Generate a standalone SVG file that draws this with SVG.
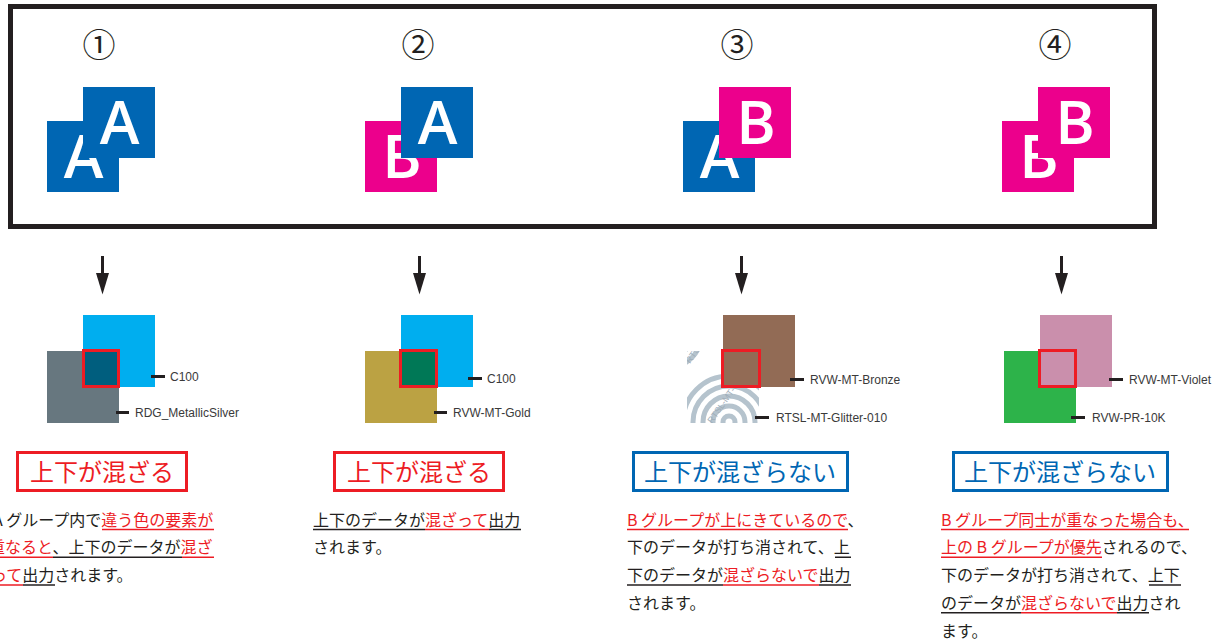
<svg xmlns="http://www.w3.org/2000/svg" width="1225" height="644" viewBox="0 0 1225 644">
<style>
.num{font-family:"Noto Sans CJK JP","Noto Sans",sans-serif;font-size:33px;fill:#231f20;text-anchor:middle}
.big{font-family:"Open Sans","Liberation Sans",sans-serif;font-size:60px;font-weight:600;fill:#fff;text-anchor:middle}
.blue{fill:#0066b3}
.mag{fill:#ec008c}
.lbl{font-family:"Liberation Sans",Arial,sans-serif;font-size:12px;fill:#3a3a3a}
.tick{stroke:#231f20;stroke-width:3}
.hl{fill:none;stroke:#ed1c24;stroke-width:3}
.cap{font-family:"Noto Sans CJK JP",sans-serif;font-size:24px}
.body{font-family:"Noto Sans CJK JP",sans-serif;font-size:16px;fill:#231f20}
.r{fill:#ed1c24}
.ur{stroke:#ed1c24;stroke-width:1.5}
.uk{stroke:#231f20;stroke-width:1.5}
.conn{stroke:#231f20;stroke-width:3;fill:none}
</style>
<defs>
<marker id="ah" markerUnits="userSpaceOnUse" markerWidth="22" markerHeight="14" refX="0" refY="6.5" orient="auto" viewBox="0 0 22 13">
<path d="M0,0 L21.5,6.5 L0,13 z" fill="#231f20"/>
</marker>
<clipPath id="gc"><rect x="687" y="351" width="72" height="72"/></clipPath>
</defs>

<g id="frame"><rect x="10.5" y="6.5" width="1144" height="220" fill="none" stroke="#231f20" stroke-width="5"/></g>

<g id="case1">
<text class="num" x="99" y="57">①</text>
<rect class="blue" x="47" y="121" width="72" height="71"/>
<text class="big" x="83.5" y="178">A</text>
<rect class="blue" x="83" y="87" width="72" height="71"/>
<text class="big" x="119.5" y="144">A</text>
</g>
<g id="case2">
<text class="num" x="418" y="57">②</text>
<rect class="mag" x="365" y="121" width="72" height="71"/>
<text class="big" x="402" y="178">B</text>
<rect class="blue" x="401" y="87" width="72" height="71"/>
<text class="big" x="437.5" y="144">A</text>
</g>
<g id="case3">
<text class="num" x="737" y="57">③</text>
<rect class="blue" x="683" y="121" width="72" height="71"/>
<text class="big" x="719.5" y="178">A</text>
<rect class="mag" x="719" y="87" width="72" height="71"/>
<text class="big" x="756" y="144">B</text>
</g>
<g id="case4">
<text class="num" x="1055" y="57">④</text>
<rect class="mag" x="1002" y="121" width="72" height="71"/>
<text class="big" x="1039" y="178">B</text>
<rect class="mag" x="1038" y="87" width="72" height="71"/>
<text class="big" x="1075" y="144">B</text>
</g>

<g id="connectors">
<line class="conn" x1="102.5" y1="256" x2="102.5" y2="273" marker-end="url(#ah)"/>
<line class="conn" x1="419.5" y1="256" x2="419.5" y2="273" marker-end="url(#ah)"/>
<line class="conn" x1="741.5" y1="256" x2="741.5" y2="273" marker-end="url(#ah)"/>
<line class="conn" x1="1061.5" y1="256" x2="1061.5" y2="273" marker-end="url(#ah)"/>
</g>

<g id="result1">
<rect x="83" y="315" width="72" height="72" fill="#00aeef"/>
<rect x="47" y="351" width="72" height="72" fill="#67777f"/>
<rect x="83" y="351" width="36" height="36" fill="#005e7e"/>
<rect class="hl" x="83.5" y="350.5" width="35" height="36"/>
<line class="tick" x1="151" y1="376.5" x2="165" y2="376.5"/>
<text class="lbl" x="170" y="381">C100</text>
<line class="tick" x1="116" y1="412.5" x2="129" y2="412.5"/>
<text class="lbl" x="135" y="417">RDG_MetallicSilver</text>
</g>
<g id="result2">
<rect x="401" y="315" width="72" height="72" fill="#00aeef"/>
<rect x="365" y="351" width="72" height="72" fill="#bba243"/>
<rect x="401" y="351" width="36" height="36" fill="#007856"/>
<rect class="hl" x="400.5" y="350.5" width="36" height="36"/>
<line class="tick" x1="468" y1="378.5" x2="482" y2="378.5"/>
<text class="lbl" x="487" y="383">C100</text>
<line class="tick" x1="434" y1="412.5" x2="447" y2="412.5"/>
<text class="lbl" x="453" y="417">RVW-MT-Gold</text>
</g>
<g id="result3">
<g clip-path="url(#gc)">
<rect x="687" y="351" width="72" height="72" fill="#fff"/>
<g fill="none" stroke="#b5c3cd" stroke-width="5">
<circle cx="729" cy="422" r="6"/>
<circle cx="729" cy="422" r="16"/>
<circle cx="729" cy="422" r="26"/>
<circle cx="729" cy="422" r="36"/>
<circle cx="729" cy="422" r="46"/>
<circle cx="672" cy="338" r="18"/>
<circle cx="672" cy="338" r="28"/>
</g>
<text x="712" y="424" transform="rotate(-55 712 424)" font-family="Liberation Sans,sans-serif" font-size="9" fill="#9fadb8">RTSL-MT-Glitter-010</text>
<text x="690" y="364" transform="rotate(-55 690 364)" font-family="Liberation Sans,sans-serif" font-size="9" fill="#9fadb8">RTSL</text>
</g>
<rect x="723" y="315" width="72" height="72" fill="#926b55"/>
<rect class="hl" x="722.5" y="350.5" width="37" height="36"/>
<line class="tick" x1="790" y1="379.5" x2="804" y2="379.5"/>
<text class="lbl" x="810" y="384">RVW-MT-Bronze</text>
<line class="tick" x1="755" y1="417.5" x2="769" y2="417.5"/>
<text class="lbl" x="776" y="422">RTSL-MT-Glitter-010</text>
</g>
<g id="result4">
<rect x="1004" y="351" width="72" height="72" fill="#2db34a"/>
<rect x="1040" y="315" width="72" height="72" fill="#ca8fac"/>
<rect class="hl" x="1039.5" y="350.5" width="36" height="36"/>
<line class="tick" x1="1109" y1="379.5" x2="1123" y2="379.5"/>
<text class="lbl" x="1129" y="384">RVW-MT-Violet</text>
<line class="tick" x1="1071" y1="417.5" x2="1085" y2="417.5"/>
<text class="lbl" x="1092" y="422">RVW-PR-10K</text>
</g>

<g id="label1">
<rect x="17.5" y="452.5" width="169" height="38" fill="none" stroke="#ed1c24" stroke-width="3"/>
<text class="cap" x="102" y="481" fill="#ed1c24" text-anchor="middle">上下が混ざる</text>
</g>
<g id="label2">
<rect x="334.5" y="452.5" width="169" height="38" fill="none" stroke="#ed1c24" stroke-width="3"/>
<text class="cap" x="419" y="481" fill="#ed1c24" text-anchor="middle">上下が混ざる</text>
</g>
<g id="label3">
<rect x="633.5" y="452.5" width="214" height="38" fill="none" stroke="#0066b3" stroke-width="3"/>
<text class="cap" x="740" y="481" fill="#0066b3" text-anchor="middle">上下が混ざらない</text>
</g>
<g id="label4">
<rect x="953.5" y="452.5" width="214" height="38" fill="none" stroke="#0066b3" stroke-width="3"/>
<text class="cap" x="1060" y="481" fill="#0066b3" text-anchor="middle">上下が混ざらない</text>
</g>

<g id="note1">
<text class="body" x="-7" y="525.5">A グループ内で<tspan class="r">違う色の要素が</tspan></text>
<text class="body" x="-11" y="553.25"><tspan class="r">重なると</tspan>、上下のデータが<tspan class="r">混ざ</tspan></text>
<text class="body" x="-9" y="581"><tspan class="r">って</tspan>出力されます。</text>
<line class="ur" x1="102" y1="529.5" x2="214" y2="529.5"/>
<line class="ur" x1="0" y1="557.25" x2="53" y2="557.25"/>
<line class="uk" x1="53" y1="557.25" x2="182" y2="557.25"/>
<line class="ur" x1="182" y1="557.25" x2="214" y2="557.25"/>
<line class="ur" x1="0" y1="585" x2="23" y2="585"/>
<line class="uk" x1="23" y1="585" x2="55" y2="585"/>
</g>
<g id="note2">
<text class="body" x="313" y="525.5">上下のデータが<tspan class="r">混ざって</tspan>出力</text>
<text class="body" x="313" y="553.25">されます。</text>
<line class="uk" x1="313" y1="529.5" x2="425" y2="529.5"/>
<line class="ur" x1="425" y1="529.5" x2="489" y2="529.5"/>
<line class="uk" x1="489" y1="529.5" x2="521" y2="529.5"/>
</g>
<g id="note3">
<text class="body" x="627" y="525.5"><tspan class="r">B グループが上にきているので</tspan>、</text>
<text class="body" x="627" y="553.25">下のデータが打ち消されて、上</text>
<text class="body" x="627" y="581">下のデータが<tspan class="r">混ざらないで</tspan>出力</text>
<text class="body" x="627" y="608.75">されます。</text>
<line class="ur" x1="627" y1="529.5" x2="848" y2="529.5"/>
<line class="uk" x1="835" y1="557.25" x2="851" y2="557.25"/>
<line class="uk" x1="627" y1="585" x2="723" y2="585"/>
<line class="ur" x1="723" y1="585" x2="819" y2="585"/>
<line class="uk" x1="819" y1="585" x2="851" y2="585"/>
</g>
<g id="note4">
<text class="body r" x="941" y="525.5">B グループ同士が重なった場合も、</text>
<text class="body" x="941" y="553.25"><tspan class="r">上の B グループが優先</tspan>されるので、</text>
<text class="body" x="941" y="581">下のデータが打ち消されて、上下</text>
<text class="body" x="941" y="608.75">のデータが<tspan class="r">混ざらないで</tspan>出力され</text>
<text class="body" x="941" y="636.5">ます。</text>
<line class="ur" x1="941" y1="529.5" x2="1189" y2="529.5"/>
<line class="ur" x1="941" y1="557.25" x2="1102" y2="557.25"/>
<line class="uk" x1="1149" y1="585" x2="1181" y2="585"/>
<line class="uk" x1="941" y1="612.75" x2="1021" y2="612.75"/>
<line class="ur" x1="1021" y1="612.75" x2="1117" y2="612.75"/>
<line class="uk" x1="1117" y1="612.75" x2="1149" y2="612.75"/>
</g>
</svg>
